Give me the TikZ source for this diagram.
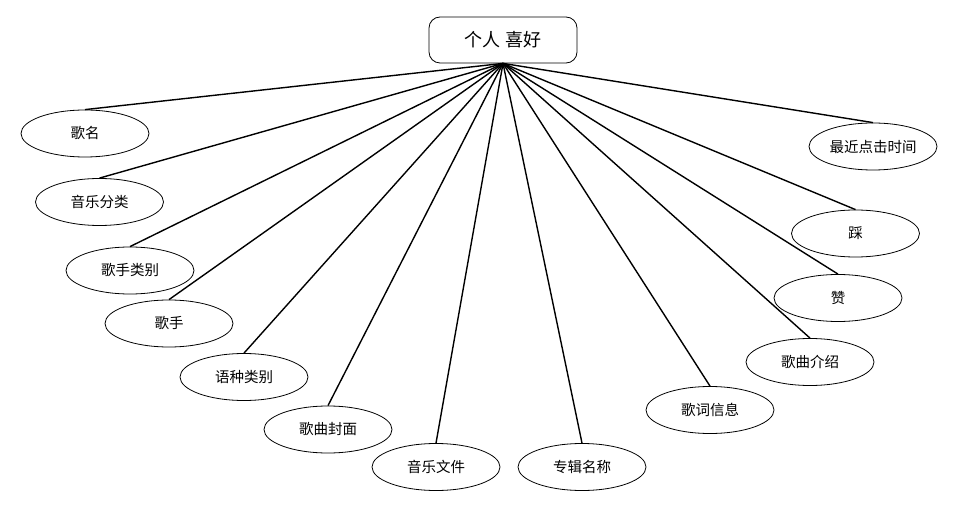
\documentclass[tikz,border=0pt]{standalone}
\usepackage{fontspec}
\setmainfont{Noto Sans CJK SC}
\usetikzlibrary{shapes.geometric}
\begin{document}
\begin{tikzpicture}[x=1pt,y=-1pt,
  attr/.style={ellipse,draw,line width=0.8pt,minimum width=128pt,minimum height=47pt,inner sep=0pt,font=\fontsize{14.5}{16}\selectfont},
  topbox/.style={draw,rounded corners=11pt,line width=0.8pt,minimum width=148pt,minimum height=46pt,inner sep=0pt,font=\fontsize{18}{21}\selectfont},
  link/.style={line width=1.4pt}]
\useasboundingbox (0,0) rectangle (965,510);
\node[topbox] (top) at (503,40) {个人 喜好};
\node[attr] (a1) at (85,133.5) {歌名};
\node[attr] (a2) at (99.5,202) {音乐分类};
\node[attr] (a3) at (130,270.5) {歌手类别};
\node[attr] (a4) at (169,323.5) {歌手};
\node[attr] (a5) at (244,377) {语种类别};
\node[attr] (a6) at (328,429.5) {歌曲封面};
\node[attr] (a7) at (436,467) {音乐文件};
\node[attr] (a8) at (582,467) {专辑名称};
\node[attr] (a9) at (710,410) {歌词信息};
\node[attr] (a10) at (810,362) {歌曲介绍};
\node[attr] (a11) at (838,298) {赞};
\node[attr] (a12) at (855.5,233.5) {踩};
\node[attr] (a13) at (873,146.5) {最近点击时间};
\foreach \i in {1,...,13} {\draw[link] (top.south) -- (a\i.north);}
\end{tikzpicture}
\end{document}
